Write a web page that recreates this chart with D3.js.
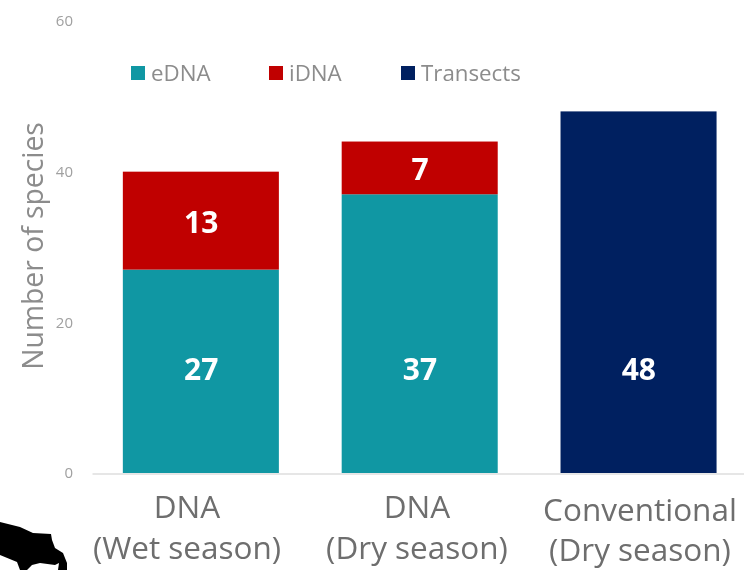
<!DOCTYPE html>
<html><head><meta charset="utf-8">
<script src="https://cdn.jsdelivr.net/npm/d3@7/dist/d3.min.js"></script>
<style>html,body{margin:0;padding:0;background:#fff}svg{display:block;filter:blur(0.55px)}text{font-family:"Open Sans",sans-serif}</style>
</head><body><svg id="c" width="744" height="570"></svg>
<script>
const categories=["DNA\n(Wet season)","DNA\n(Dry season)","Conventional\n(Dry season)"];
const seriesNames=["eDNA","iDNA","Transects"];
const eDNA=[27,37,0];
const iDNA=[13,7,0];
const transects=[0,0,48];
const yTicks=[0,20,40,60];
const colors=["#1097a3","#c00000","#002060"];
const svg=d3.select("#c");
const y=d3.scaleLinear().domain([0,60]).range([473,21]);
const x=d3.scaleBand().domain(categories).range([92,747]).paddingInner(0.287).paddingOuter(0.14);
const rows=categories.map((c,i)=>({c,eDNA:eDNA[i],iDNA:iDNA[i],Transects:transects[i]}));
const stack=d3.stack().keys(seriesNames)(rows);
const axis=svg.append("g").attr("transform","translate(0,473.5)").call(d3.axisBottom(x).tickSize(0).tickFormat(""));
axis.select(".domain").attr("stroke","#dedede").attr("stroke-width",1.5);
const ya=svg.append("g").attr("transform","translate(76,0)").call(d3.axisLeft(y).tickValues(yTicks).tickSize(0));
ya.select(".domain").remove();
ya.selectAll("text").attr("fill","#a0a0a0").attr("font-size",15);
stack.forEach((s,k)=>{
 svg.append("g").selectAll("rect").data(s).join("rect")
  .attr("x",d=>x(d.data.c)+0.2).attr("width",x.bandwidth())
  .attr("y",d=>y(d[1])).attr("height",d=>y(d[0])-y(d[1])).attr("fill",colors[k]);
 svg.append("g").selectAll("text").data(s.filter(d=>d[1]>d[0])).join("text")
  .attr("x",d=>x(d.data.c)+x.bandwidth()/2+0.5)
  .attr("y",d=>d[0]===0?y(13.8):y((d[0]+d[1])/2)+1.5)
  .attr("dy","0.35em").attr("text-anchor","middle").attr("fill","#fff")
  .attr("font-size",30).attr("font-weight",700).text(d=>d[1]-d[0]);
});
const labelX=[187,417,640];
const labelY=[518,518,520.5];
categories.forEach((c,j)=>{
 c.split("\n").forEach((t,i)=>{
  svg.append("text").attr("x",labelX[j]).attr("y",labelY[j]+i*40.5)
   .attr("text-anchor","middle").attr("fill","#6e6e6e").attr("font-size",31.5).text(t);
 });
});
svg.append("text").attr("transform","translate(43,246) rotate(-90)").attr("text-anchor","middle")
 .attr("fill","#8c8c8c").attr("font-size",28.3).text("Number of species");
const lx=d3.scaleOrdinal().domain(seriesNames).range([131,269,401]);
const lg=svg.append("g").selectAll("g").data(seriesNames).join("g").attr("transform",d=>`translate(${lx(d)},66)`);
lg.append("rect").attr("width",14).attr("height",14).attr("fill",(d,i)=>colors[i]);
lg.append("text").attr("x",20).attr("y",7).attr("dy","0.35em").attr("fill","#8c8c8c").attr("font-size",22.3).text(d=>d);
svg.append("path").attr("fill","#000")
 .attr("d","M0,522 L20,527 L33,533 L51,534 L52,540 L55,548 L63,553 L67,563 L67,570 L58,570 L59,563 L55,565 L40,563 L32,565 L27,570 L20,570 L17,562 L0,555 Z");
</script></body></html>
